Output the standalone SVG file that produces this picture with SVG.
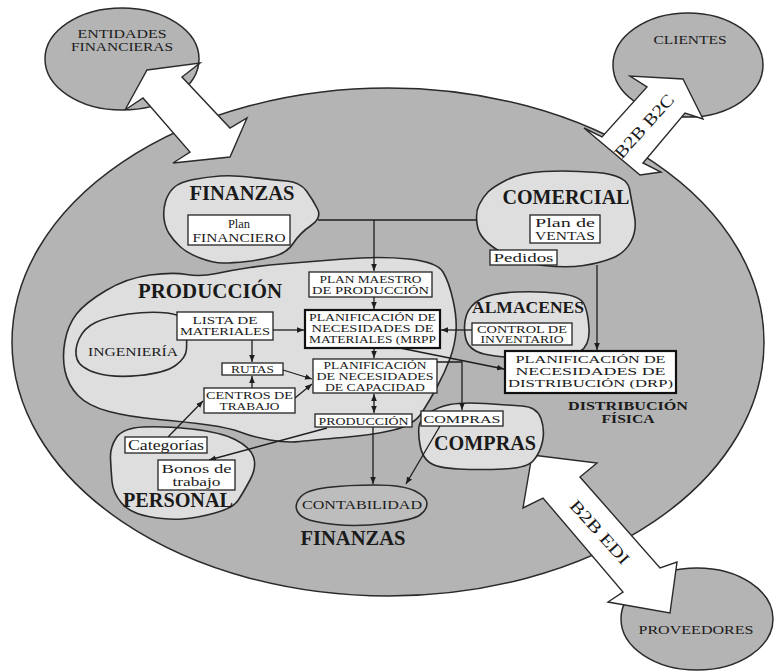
<svg xmlns="http://www.w3.org/2000/svg" width="784" height="671" viewBox="0 0 784 671">
<defs>
<marker id="ah" viewBox="0 0 10 10" refX="10" refY="5" markerWidth="7" markerHeight="7" markerUnits="userSpaceOnUse" orient="auto-start-reverse"><path d="M0,1 L10,5 L0,9 z" fill="#1e1e1e"/></marker>
<style>
.bg{fill:#b4b4b4;stroke:#2a2a2a;stroke-width:1.5}
.blob{fill:#dedede;stroke:#2a2a2a;stroke-width:1.6}
.blob2{fill:#bdbdbd;stroke:#2a2a2a;stroke-width:1.6}
.big{fill:#ffffff;stroke:#2a2a2a;stroke-width:1.4;stroke-linejoin:miter}
.box{fill:#ffffff;stroke:#222;stroke-width:1.3}
.boxb{fill:#ffffff;stroke:#111;stroke-width:2.2}
.ln{fill:none;stroke:#1e1e1e;stroke-width:1.3}
.arr{fill:none;stroke:#1e1e1e;stroke-width:1.3;marker-end:url(#ah)}
.arr2{fill:none;stroke:#1e1e1e;stroke-width:1.3;marker-end:url(#ah);marker-start:url(#ah)}
text{font-family:"Liberation Serif","DejaVu Serif",serif;fill:#1a1a1a;text-anchor:middle}
.ti{font-weight:bold;font-size:20px}
.tm{font-weight:bold;font-size:12px}
.bx{font-size:10px}
.b1{font-size:11.5px}
.bd{font-size:11px}
.bs{font-size:13px}
.lc{font-size:12.5px}
.el{font-size:12px}
.ar{font-size:17px}
</style>
</defs>

<g id="empresa"><ellipse class="bg" cx="388" cy="342" rx="376" ry="254"/></g>

<g id="entidades-financieras">
<ellipse class="bg" cx="122" cy="59" rx="77" ry="51"/>
<text class="el" x="122" y="38" textLength="89" lengthAdjust="spacingAndGlyphs">ENTIDADES</text>
<text class="el" x="122" y="51" textLength="102" lengthAdjust="spacingAndGlyphs">FINANCIERAS</text>
</g>
<g id="clientes">
<ellipse class="bg" cx="688" cy="65" rx="75" ry="52"/>
<text class="bs" x="690" y="44" textLength="73" lengthAdjust="spacingAndGlyphs">CLIENTES</text>
</g>
<g id="proveedores">
<ellipse class="bg" cx="697" cy="619" rx="76" ry="51"/>
<text class="bs" x="696" y="634" textLength="115" lengthAdjust="spacingAndGlyphs">PROVEEDORES</text>
</g>

<g id="external-arrows">
<polygon class="big" points="147,70 200,63 182,77 230,128 247,118 230,157 173,163 190,152 143,98 125,110"/>
<polygon class="big" points="683,79 703,119 685,113 643,163 661,172 640,175 584,128 602,137 647,87 630,76"/>
<text class="ar" transform="translate(644,126) rotate(-48)" x="0" y="6" textLength="80" lengthAdjust="spacingAndGlyphs">B2B B2C</text>
<polygon class="big" points="532,455 597,463 580,477 660,568 677,562 670,613 608,602 623,592 543,498 523,508"/>
<text class="ar" transform="translate(600,532) rotate(48)" x="0" y="6" textLength="80" lengthAdjust="spacingAndGlyphs">B2B EDI</text>
</g>

<g id="finanzas">
<path class="blob" d="M174,187.5 Q180,182 193.5,179.5 Q207,177 220,176 Q233,175 253,177.5 Q273,180 286.5,181 Q300,182 306.5,191 Q313,200 317.5,209 Q322,218 311,225.5 Q300,233 293.5,243 Q287,253 273.5,256.5 Q260,260 246.5,261.5 Q233,263 223,263 Q213,263 200,258 Q187,253 180,246.5 Q173,240 169,233.5 Q165,227 164,218.5 Q163,210 165.5,201.5 Q168,193 174,187.5 Z"/>
<text class="ti" x="242" y="200" textLength="105" lengthAdjust="spacingAndGlyphs">FINANZAS</text>
</g>
<g id="comercial">
<path class="blob" d="M488,192 Q493,187 506.5,180 Q520,173 543.5,171.5 Q567,170 597,172.5 Q627,175 629.5,189 Q632,203 634.5,216.5 Q637,230 631,241.5 Q625,253 612.5,258 Q600,263 583.5,265.5 Q567,268 543.5,265.5 Q520,263 500,251.5 Q480,240 477.5,226.5 Q475,213 479,205 Q483,197 488,192 Z"/>
<text class="ti" x="566" y="204" textLength="127" lengthAdjust="spacingAndGlyphs">COMERCIAL</text>
</g>
<g id="produccion">
<path class="blob" d="M287,263.5 Q307,262 343.5,259 Q380,256 408.5,259 Q437,262 443,272 Q449,282 453,300 Q457,318 456,331.5 Q455,345 450,358.5 Q445,372 437.5,386 Q430,400 422,412.5 Q414,425 393.5,430 Q373,435 343,437.5 Q313,440 300,441.5 Q287,443 270,440 Q253,437 241.5,432.5 Q230,428 208.5,425 Q187,422 158.5,419.5 Q130,417 109,411.5 Q88,406 78,395.5 Q68,385 65,371 Q62,357 65,341 Q68,325 76.5,314 Q85,303 106,290.5 Q127,278 150,275 Q173,272 186.5,274.5 Q200,277 216.5,273.5 Q233,270 250,267.5 Q267,265 287,263.5 Z"/>
<text class="ti" x="210" y="298" textLength="144" lengthAdjust="spacingAndGlyphs">PRODUCCIÓN</text>
</g>
<g id="ingenieria">
<path class="blob" d="M95.5,322.5 Q107,317 128.5,314 Q150,311 167.5,313 Q185,315 186,327.5 Q187,340 186.5,349 Q186,358 175.5,365.5 Q165,373 139,375.5 Q113,378 96.5,373 Q80,368 77,359 Q74,350 79,339 Q84,328 95.5,322.5 Z"/>
<text class="bs" x="133" y="356" textLength="90" lengthAdjust="spacingAndGlyphs">INGENIERÍA</text>
</g>
<g id="almacenes">
<path class="blob" d="M466.5,315 Q470,305 481,299 Q492,293 516,292 Q540,291 560,293.5 Q580,296 584,304 Q588,312 589,328.5 Q590,345 580,351.5 Q570,358 535,358 Q500,358 484,354 Q468,350 465.5,337.5 Q463,325 466.5,315 Z"/>
<text class="ti" style="font-size:17.5px" x="528" y="313" textLength="112" lengthAdjust="spacingAndGlyphs">ALMACENES</text>
</g>
<g id="personal">
<path class="blob" d="M116.5,437.5 Q123,428 143,427 Q163,426 191.5,429 Q220,432 235,439.5 Q250,447 253.5,457 Q257,467 250,480 Q243,493 238,500.5 Q233,508 215,513 Q197,518 182,519 Q167,520 148.5,516.5 Q130,513 121.5,503 Q113,493 112,481.5 Q111,470 110.5,458.5 Q110,447 116.5,437.5 Z"/>
<text class="ti" x="178" y="507" textLength="110" lengthAdjust="spacingAndGlyphs">PERSONAL</text>
</g>
<g id="compras">
<path class="blob" d="M419,426.5 Q420,420 428.5,413.5 Q437,407 450,404.5 Q463,402 485,403.5 Q507,405 522,406 Q537,407 541,418.5 Q545,430 542.5,441.5 Q540,453 533.5,460.5 Q527,468 503.5,469 Q480,470 458.5,469 Q437,468 429.5,462.5 Q422,457 420,445 Q418,433 419,426.5 Z"/>
<text class="ti" x="485" y="450" textLength="102" lengthAdjust="spacingAndGlyphs">COMPRAS</text>
</g>
<g id="contabilidad">
<path class="blob2" d="M301,496.5 Q307,490 327,487.5 Q347,485 375,485 Q403,485 415,491 Q427,497 427,503.5 Q427,510 420,515 Q413,520 385,523.5 Q357,527 335,524.5 Q313,522 305.5,518.5 Q298,515 296.5,509 Q295,503 301,496.5 Z"/>
<text class="bs" x="362" y="509" textLength="120" lengthAdjust="spacingAndGlyphs">CONTABILIDAD</text>
</g>
<g id="finanzas-label"><text class="ti" x="353" y="545" textLength="105" lengthAdjust="spacingAndGlyphs">FINANZAS</text></g>
<g id="distribucion-fisica">
<text class="tm" x="628" y="410" textLength="120" lengthAdjust="spacingAndGlyphs">DISTRIBUCIÓN</text>
<text class="tm" x="628" y="423" textLength="53" lengthAdjust="spacingAndGlyphs">FÍSICA</text>
</g>

<g id="connectors">
<path class="ln" d="M318,220 H477"/>
<path class="arr" d="M374,220 V271"/>
<path class="arr" d="M374,297 V309"/>
<path class="arr" d="M374,348 V358"/>
<path class="arr2" d="M374,394 V413"/>
<path class="arr" d="M373,427 V484"/>
<path class="arr" d="M440,426 L406,484"/>
<path class="arr" d="M273,330 H304"/>
<path class="arr" d="M252,340 V362"/>
<path class="arr" d="M252,388 V376"/>
<path class="arr" d="M283,370 L312,379"/>
<path class="arr" d="M295,398 L312,384"/>
<path class="arr" d="M168,437 L203,401"/>
<path class="arr" d="M327,428 L209,460"/>
<path class="arr" d="M472,330 H441"/>
<path class="arr" d="M597,265 V350"/>
<path class="arr" d="M400,348 L504,369"/>
<path class="arr" d="M437,362 H462 V410"/>
</g>

<g id="plan-financiero"><rect class="box" x="188" y="215" width="102" height="30"/>
<text class="lc" x="239" y="228">Plan</text>
<text class="b1" x="239" y="242" textLength="93" lengthAdjust="spacingAndGlyphs">FINANCIERO</text></g>
<g id="plan-ventas"><rect class="box" x="530" y="215" width="70" height="28"/>
<text class="lc" x="565" y="227" textLength="60" lengthAdjust="spacingAndGlyphs">Plan de</text>
<text class="b1" x="565" y="240" textLength="60" lengthAdjust="spacingAndGlyphs">VENTAS</text></g>
<g id="pedidos"><rect class="box" x="490" y="250" width="67" height="15"/>
<text class="lc" x="523.5" y="262" textLength="60" lengthAdjust="spacingAndGlyphs">Pedidos</text></g>
<g id="plan-maestro"><rect class="box" x="309" y="272" width="123" height="25"/>
<text class="bx" x="370.5" y="283" textLength="102" lengthAdjust="spacingAndGlyphs">PLAN MAESTRO</text>
<text class="bx" x="370.5" y="294" textLength="117" lengthAdjust="spacingAndGlyphs">DE PRODUCCIÓN</text></g>
<g id="mrp"><rect class="boxb" x="305" y="310" width="135" height="38"/>
<text class="bx" x="372.5" y="321" textLength="127" lengthAdjust="spacingAndGlyphs">PLANIFICACIÓN DE</text>
<text class="bx" x="372.5" y="332" textLength="122" lengthAdjust="spacingAndGlyphs">NECESIDADES DE</text>
<text class="bx" x="372.5" y="343" textLength="127" lengthAdjust="spacingAndGlyphs">MATERIALES (MRPP</text></g>
<g id="crp"><rect class="box" x="313" y="359" width="124" height="34"/>
<text class="bx" x="375" y="369" textLength="103" lengthAdjust="spacingAndGlyphs">PLANIFICACIÓN</text>
<text class="bx" x="375" y="380" textLength="117" lengthAdjust="spacingAndGlyphs">DE NECESIDADES</text>
<text class="bx" x="375" y="390.5" textLength="100" lengthAdjust="spacingAndGlyphs">DE CAPACIDAD</text></g>
<g id="produccion-box"><rect class="box" x="315" y="414" width="97" height="13"/>
<text class="bx" x="363.5" y="424.5" textLength="90" lengthAdjust="spacingAndGlyphs">PRODUCCIÓN</text></g>
<g id="compras-box"><rect class="box" x="421" y="411" width="82" height="15"/>
<text class="bx" x="462" y="423" textLength="77" lengthAdjust="spacingAndGlyphs">COMPRAS</text></g>
<g id="control-inventario"><rect class="box" x="472" y="323" width="100" height="22"/>
<text class="bx" style="font-size:9.5px" x="522" y="333" textLength="90" lengthAdjust="spacingAndGlyphs">CONTROL DE</text>
<text class="bx" style="font-size:9.5px" x="522" y="343" textLength="83" lengthAdjust="spacingAndGlyphs">INVENTARIO</text></g>
<g id="drp"><rect class="boxb" x="505" y="351" width="171" height="42"/>
<text class="bd" x="590.5" y="363" textLength="150" lengthAdjust="spacingAndGlyphs">PLANIFICACIÓN DE</text>
<text class="bd" x="590.5" y="375" textLength="150" lengthAdjust="spacingAndGlyphs">NECESIDADES DE</text>
<text class="bd" x="590.5" y="387" textLength="165" lengthAdjust="spacingAndGlyphs">DISTRIBUCIÓN (DRP)</text></g>
<g id="lista-materiales"><rect class="box" x="177" y="312" width="96" height="28"/>
<text class="bx" x="225" y="324" textLength="65" lengthAdjust="spacingAndGlyphs">LISTA DE</text>
<text class="bx" x="225" y="335" textLength="90" lengthAdjust="spacingAndGlyphs">MATERIALES</text></g>
<g id="rutas"><rect class="box" x="222" y="363" width="61" height="12"/>
<text class="bx" x="252.5" y="373" textLength="43" lengthAdjust="spacingAndGlyphs">RUTAS</text></g>
<g id="centros-trabajo"><rect class="box" x="204" y="388" width="91" height="25"/>
<text class="bx" x="249.5" y="399" textLength="87" lengthAdjust="spacingAndGlyphs">CENTROS DE</text>
<text class="bx" x="249.5" y="410" textLength="60" lengthAdjust="spacingAndGlyphs">TRABAJO</text></g>
<g id="categorias"><rect class="box" x="125" y="437" width="82" height="16"/>
<text class="lc" style="font-size:14px" x="166" y="449.5" textLength="76" lengthAdjust="spacingAndGlyphs">Categorías</text></g>
<g id="bonos"><rect class="box" x="158" y="460" width="77" height="30"/>
<text class="lc" style="font-size:11.5px" x="196.5" y="473" textLength="70" lengthAdjust="spacingAndGlyphs">Bonos de</text>
<text class="lc" style="font-size:11.5px" x="196.5" y="485.5" textLength="48" lengthAdjust="spacingAndGlyphs">trabajo</text></g>
</svg>
